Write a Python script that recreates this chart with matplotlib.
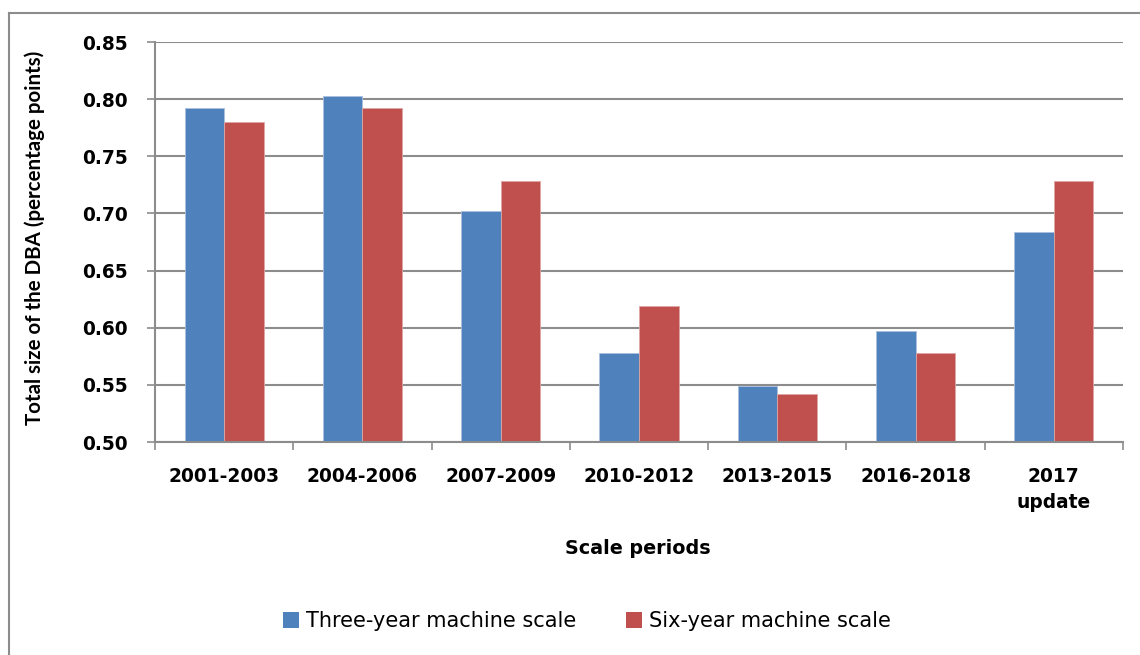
import matplotlib
matplotlib.use("Agg")
import matplotlib.pyplot as plt
import numpy as np
from matplotlib.patches import Patch
from matplotlib.lines import Line2D

categories = ["2001-2003", "2004-2006", "2007-2009", "2010-2012", "2013-2015", "2016-2018", "2017\nupdate"]
three_year = [0.792, 0.803, 0.702, 0.578, 0.549, 0.597, 0.684]
six_year = [0.780, 0.792, 0.728, 0.619, 0.542, 0.578, 0.728]
series_names = ["Three-year machine scale", "Six-year machine scale"]
yticks = [0.50, 0.55, 0.60, 0.65, 0.70, 0.75, 0.80, 0.85]

BLUE = "#4F81BD"
RED = "#C0504D"
GRID = "#8C8C8C"
HFONT = "DejaVu Sans"
VFONT = "Lato"

fig = plt.figure(figsize=(11.4, 6.55), dpi=100)
W, H = 1140, 655
ax = fig.add_axes([155 / W, 1 - 442 / H, (1123 - 155) / W, (442 - 42) / H])

x = np.arange(len(categories))
bw = 1 / 3.5
ax.bar(x - bw / 2, three_year, width=bw, color=BLUE, edgecolor="#A9C0DE", linewidth=0.6, zorder=3)
ax.bar(x + bw / 2, six_year, width=bw, color=RED, edgecolor="#DDA5A4", linewidth=0.6, zorder=3)

ax.set_xlim(-0.5, len(categories) - 0.5)
ax.set_ylim(0.50, 0.85)
ax.set_yticks(yticks)
ax.set_yticklabels([f"{v:.2f}" for v in yticks], fontfamily=HFONT, fontweight="bold", fontsize=13.4)
ax.yaxis.grid(True, color=GRID, linewidth=1.5, zorder=0)
ax.tick_params(axis="y", length=6, width=1.2, color=GRID, pad=13.5)

ax.set_xticks(np.arange(-0.5, len(categories), 1.0))
ax.set_xticklabels([])
ax.set_xticks(x, minor=True)
ax.set_xticklabels(categories, minor=True, fontfamily=HFONT, fontweight="bold", fontsize=13.4, linespacing=1.45)
ax.tick_params(axis="x", which="major", length=6, width=1.2, color=GRID)
ax.tick_params(axis="x", which="minor", length=0, pad=18)

for s in ["top", "right"]:
    ax.spines[s].set_visible(False)
for s in ["left", "bottom"]:
    ax.spines[s].set_color(GRID)
    ax.spines[s].set_linewidth(1.5)
    ax.spines[s].set_zorder(4)

fig.text(35 / W, 1 - 238 / H, "Total size of the DBA (percentage points)", rotation=90,
         ha="center", va="center", fontfamily=VFONT, fontweight="bold", fontsize=14.8)
fig.text(638 / W, 1 - 549 / H, "Scale periods", ha="center", va="center",
         fontfamily=HFONT, fontweight="bold", fontsize=13.8)

handles = [Patch(facecolor=BLUE, edgecolor="none"), Patch(facecolor=RED, edgecolor="none")]
fig.legend(handles, series_names, loc="center", bbox_to_anchor=(587 / W, 1 - 621 / H), ncol=2,
           frameon=False, prop={"family": HFONT, "size": 15}, handlelength=0.77, handleheight=0.77,
           handletextpad=0.34, columnspacing=2.35)

# chart-area frame (top and left edges visible)
fig.add_artist(Line2D([9 / W, 1.0], [1 - 13 / H, 1 - 13 / H], transform=fig.transFigure,
                      color=GRID, linewidth=1.5))
fig.add_artist(Line2D([9 / W, 9 / W], [0.0, 1 - 13 / H], transform=fig.transFigure,
                      color=GRID, linewidth=1.5))

fig.savefig("out.png", dpi=100, facecolor="white")
